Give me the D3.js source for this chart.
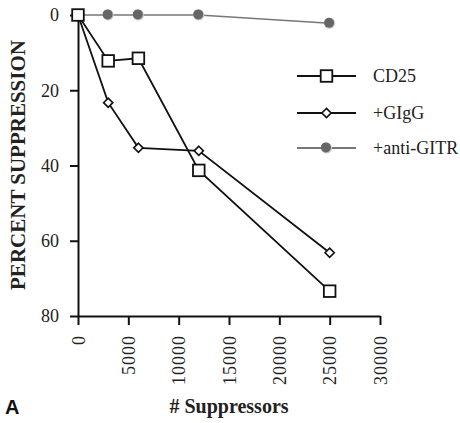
<!DOCTYPE html>
<html>
<head>
<meta charset="utf-8">
<script src="https://cdn.jsdelivr.net/npm/d3@7"></script>
<style>
  html, body { margin: 0; padding: 0; background: #fff; }
  svg { display: block; }
  svg text { font-family: "Liberation Serif", "Times New Roman", "DejaVu Serif", serif; }
  svg text.sans { font-family: "Liberation Sans", Arial, sans-serif; }
</style>
</head>
<body>
<svg id="chart" width="460" height="423"></svg>
<script>
const suppressors = [0, 3000, 6000, 12000, 25000];
const cd25 = [0, 12.2, 11.5, 41.3, 73.4];
const gigg = [0, 23.3, 35.3, 36.1, 63.2];
const antiGitr = [0, 0, 0, 0, 2.2];
const seriesNames = ["CD25", "+GIgG", "+anti-GITR"];
const xTicks = [0, 5000, 10000, 15000, 20000, 25000, 30000];
const yTicks = [0, 20, 40, 60, 80];

const svg = d3.select("#chart");
const x = d3.scaleLinear().domain([0, 30000]).range([78, 380]);
const y = d3.scaleLinear().domain([0, 80]).range([15, 316]);

// axes
const yAxis = svg.append("g").attr("transform", "translate(78,0)")
  .call(d3.axisLeft(y).tickValues(yTicks).tickSize(8).tickSizeOuter(0).tickPadding(11));
const xAxis = svg.append("g").attr("transform", "translate(0,316)")
  .call(d3.axisBottom(x).tickValues(xTicks).tickSize(9).tickSizeOuter(0).tickFormat(d3.format("d")));
[yAxis, xAxis].forEach(g => {
  g.attr("font-family", null);
  g.selectAll("path.domain").attr("stroke", "#111").attr("stroke-width", 2);
  g.selectAll(".tick line").attr("stroke", "#111").attr("stroke-width", 2);
  g.selectAll("text").style("font-size", "18px").attr("fill", "#222");
});
xAxis.selectAll(".tick text")
  .attr("transform", "rotate(-90)")
  .attr("text-anchor", "end")
  .attr("x", -19).attr("y", 0).attr("dy", "0.35em")
  .style("letter-spacing", "1px");

const line = d3.line().x(d => x(d[0])).y(d => y(d[1]));
const zip = vals => suppressors.map((s, i) => [s, vals[i]]);

function circleMarker(g, cx, cy) {
  g.append("circle").attr("cx", cx).attr("cy", cy).attr("r", 5.5).attr("fill", "#c8c8c8");
  g.append("circle").attr("cx", cx - 0.6).attr("cy", cy - 0.6).attr("r", 5).attr("fill", "#666");
}
function squareMarker(g, cx, cy) {
  g.append("rect").attr("x", cx - 5.8).attr("y", cy - 5.8).attr("width", 11.6).attr("height", 11.6)
    .attr("fill", "#fff").attr("stroke", "#111").attr("stroke-width", 1.8);
}
function diamondMarker(g, cx, cy) {
  const r = 4.6;
  g.append("path").attr("d", `M${cx},${cy - r}L${cx + r},${cy}L${cx},${cy + r}L${cx - r},${cy}Z`)
    .attr("fill", "#fff").attr("stroke", "#111").attr("stroke-width", 1.6);
}

const gG = svg.append("g");
gG.append("path").datum(zip(antiGitr)).attr("d", line).attr("fill", "none").attr("stroke", "#777").attr("stroke-width", 1.6);
zip(antiGitr).forEach(d => circleMarker(gG, x(d[0]), y(d[1])));

const gD = svg.append("g");
gD.append("path").datum(zip(gigg)).attr("d", line).attr("fill", "none").attr("stroke", "#111").attr("stroke-width", 1.8);
zip(gigg).forEach(d => diamondMarker(gD, x(d[0]), y(d[1])));

const gS = svg.append("g");
gS.append("path").datum(zip(cd25)).attr("d", line).attr("fill", "none").attr("stroke", "#111").attr("stroke-width", 1.8);
zip(cd25).forEach(d => squareMarker(gS, x(d[0]), y(d[1])));

// legend
const legY = [76, 113, 148];
const legColors = ["#111", "#111", "#777"];
const markers = [squareMarker, diamondMarker, circleMarker];
seriesNames.forEach((name, i) => {
  const g = svg.append("g");
  g.append("line").attr("x1", 297).attr("x2", 356).attr("y1", legY[i]).attr("y2", legY[i])
    .attr("stroke", legColors[i]).attr("stroke-width", 1.8);
  markers[i](g, 326.5, legY[i]);
  g.append("text").attr("x", 373).attr("y", legY[i] + 6)
    .style("font-size", "18px").attr("fill", "#222").text(name);
});

// titles
svg.append("text").attr("transform", "translate(25,165) rotate(-90)")
  .attr("text-anchor", "middle").style("font-weight", "bold")
  .style("font-size", "21px").attr("fill", "#222").text("PERCENT SUPPRESSION");
svg.append("text").attr("x", 229).attr("y", 413)
  .attr("text-anchor", "middle").style("font-weight", "bold")
  .style("font-size", "20px").attr("fill", "#222").text("# Suppressors");
svg.append("text").attr("class", "sans").attr("x", 5).attr("y", 414)
  .style("font-weight", "bold").style("font-size", "20px").attr("fill", "#111").text("A");
</script>
</body>
</html>
